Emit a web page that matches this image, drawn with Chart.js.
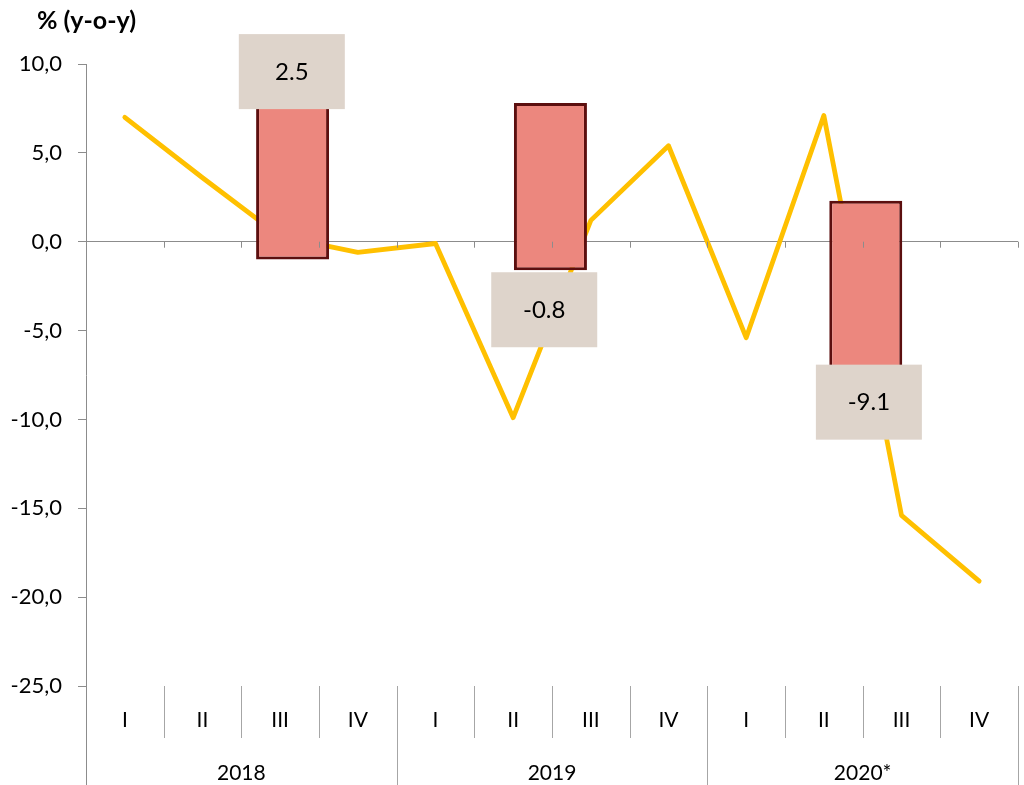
<!DOCTYPE html>
<html>
<head>
<meta charset="utf-8">
<script src="https://cdn.jsdelivr.net/npm/chart.js@4/dist/chart.umd.min.js"></script>
<style>
  html, body { margin: 0; padding: 0; background: #fff; }
  #wrap { width: 1024px; height: 785px; position: relative; }
</style>
</head>
<body>
<div id="wrap"><canvas id="gdpChart"></canvas></div>
<script>
const quarters = ["I", "II", "III", "IV", "I", "II", "III", "IV", "I", "II", "III", "IV"];
const years = ["2018", "2019", "2020*"];
const growth = [7.0, 3.6, 0.3, -0.6, -0.1, -9.9, 1.2, 5.4, -5.4, 7.1, -15.4, -19.1];

// floating bars (position on a 0..12 quarter scale)
const barPos = [2.66, 5.98, 10.04];
const barLow = [-1.0, -1.6, -7.2];
const barHigh = [8.0, 7.8, 2.3];

// boxed annual notes
const noteText = ["2.5", "-0.8", "-9.1"];
const notePos = [2.65, 5.9, 10.08];
const noteY = [9.6, -3.8, -9.0];

const yMin = -25, yMax = 10, yStep = 5;

const axisGrey = "#8c8c8c";
const font = "Lato, 'Open Sans', sans-serif";

const extras = {
  id: "extras",
  afterDatasetsDraw(chart) {
    const c = chart.ctx;
    const xb = chart.scales.xb, y = chart.scales.y;
    c.save();
    c.font = "24px " + font;
    c.textAlign = "center";
    c.textBaseline = "middle";
    noteText.forEach((t, i) => {
      const px = xb.getPixelForValue(notePos[i]);
      const py = y.getPixelForValue(noteY[i]);
      c.fillStyle = "#ded4cb";
      c.fillRect(px - 53, py - 37, 106, 75);
      c.fillStyle = "#000";
      c.fillText(t, px, py + 1);
    });
    c.restore();
  },
  afterDraw(chart) {
    const c = chart.ctx;
    const a = chart.chartArea;
    const xb = chart.scales.xb, y = chart.scales.y;
    const zero = y.getPixelForValue(0);
    c.save();
    c.lineWidth = 1;
    // y axis extension down through category labels
    c.strokeStyle = axisGrey;
    c.beginPath();
    c.moveTo(a.left + 0.5, a.bottom);
    c.lineTo(a.left + 0.5, 785);
    c.stroke();
    for (let k = 0; k <= quarters.length; k++) {
      const px = Math.round(xb.getPixelForValue(k)) + 0.5;
      // ticks on the zero line
      c.strokeStyle = axisGrey;
      c.beginPath();
      c.moveTo(px, zero);
      c.lineTo(px, zero + 6);
      c.stroke();
      // category separators
      if (k === 0) continue;
      c.strokeStyle = "#a6a6a6";
      c.beginPath();
      c.moveTo(px, a.bottom);
      c.lineTo(px, k % 4 === 0 ? 785 : a.bottom + 52);
      c.stroke();
    }
    // year labels
    c.fillStyle = "#000";
    c.font = "21px " + font;
    c.textAlign = "center";
    c.textBaseline = "middle";
    years.forEach((yr, i) => {
      c.fillText(yr, xb.getPixelForValue(i * 4 + 2), 773);
    });
    // title
    c.font = "bold 25px " + font;
    c.textAlign = "left";
    c.fillText("% (y-o-y)", 37, 21);
    c.restore();
  }
};

window.onload = () => {
  const ctx = document.getElementById("gdpChart").getContext("2d");

  new Chart(ctx, {
    type: "line",
    data: {
      labels: quarters,
      datasets: [{
        type: "bar",
        xAxisID: "xb",
        data: barPos.map((p, i) => ({ x: p, y: [barLow[i], barHigh[i]] })),
        backgroundColor: "#ec877e",
        borderColor: "#5c0f0f",
        borderWidth: 3,
        borderSkipped: false,
        grouped: false,
        maxBarThickness: 73,
        order: 1
      }, {
        type: "line",
        xAxisID: "x",
        data: growth,
        borderColor: "#ffc000",
        borderWidth: 4.8,
        borderCapStyle: "round",
        borderJoinStyle: "round",
        pointRadius: 0,
        tension: 0,
        fill: false,
        order: 2
      }]
    },
    options: {
      responsive: true,
      maintainAspectRatio: false,
      animation: false,
      layout: { padding: { top: 64, right: 6, left: 0, bottom: 0 } },
      plugins: {
        legend: { display: false },
        tooltip: { enabled: false }
      },
      scales: {
        x: {
          type: "category",
          offset: true,
          grid: { display: false, drawTicks: false },
          border: { display: false },
          ticks: {
            color: "#000",
            font: { family: font, size: 21 },
            padding: 22,
            maxRotation: 0,
            autoSkip: false
          },
          afterFit: (s) => { s.height = 99; }
        },
        xb: {
          type: "linear",
          min: 0,
          max: 12,
          offset: false,
          grace: 0,
          display: false
        },
        y: {
          min: yMin,
          max: yMax,
          ticks: {
            stepSize: yStep,
            color: "#000",
            padding: 16,
            font: { family: font, size: 22 },
            callback: (v) => v.toFixed(1).replace(".", ",")
          },
          grid: {
            color: (c) => (c.tick && c.tick.value === 0 ? axisGrey : "rgba(0,0,0,0)"),
            tickColor: axisGrey,
            tickLength: 8,
            lineWidth: 1
          },
          border: { display: true, color: axisGrey },
          afterFit: (s) => { s.width = 86; }
        }
      }
    },
    plugins: [extras]
  });
};
</script>
</body>
</html>
